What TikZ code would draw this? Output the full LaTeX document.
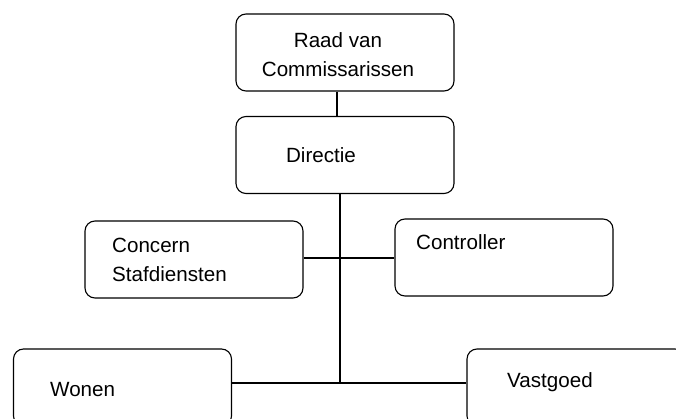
\documentclass[tikz,border=0pt]{standalone}
\usepackage{fontspec}
\setmainfont{Liberation Sans}
\usepackage{tikz}
\usetikzlibrary{positioning}
\tikzstyle{unit} = [draw=black, line width=1.1pt, rounded corners=10pt, fill=white,
        minimum width=218pt, minimum height=77pt, inner sep=0pt]
\tikzstyle{caption} = [font={\fontsize{20.6}{29}\selectfont}, inner sep=0pt, align=left]
\tikzstyle{wire} = [draw=black, line width=1.1pt]

\begin{document}
\begin{tikzpicture}[x=1pt, y=-1pt]
                \useasboundingbox (0,0) rectangle (676,419);
                \clip (0,0) rectangle (676,419);
                \draw
                    node [unit] (raad) at (345,52.5) {}
                    node [unit] (directie) at (345,155) {}
                    node [unit] (concern) at (194,259.5) {}
                    node [unit] (controller) at (504,257.5) {}
                    node [unit] (wonen) at (122.5,387.5) {}
                    node [unit] (vastgoed) at (576,387.5) {};
                \node [caption, align=center] (raad-t) at (338,55) {Raad van\\Commissarissen};
                \node [caption] (directie-t) at (321,155) {Directie};
                \node [caption, anchor=west] (concern-t) at (112,260) {Concern\\Stafdiensten};
                \node [caption, anchor=west] (controller-t) at (416,242) {Controller};
                \node [caption, anchor=west] (wonen-t) at (50,390) {Wonen};
                \node [caption, anchor=west] (vastgoed-t) at (507,382) {Vastgoed};
                \coordinate (hub) at (340,258);
                \coordinate (foot) at (340,383);
                \draw[wire] ([xshift=-8pt]raad.south) -- ([xshift=-8pt]directie.north);
                \draw[wire] (directie.south -| foot) -- (foot);
                \draw[wire] (concern.east |- hub) -- (controller.west |- hub);
                \draw[wire] (wonen.east |- foot) -- (vastgoed.west |- foot);
            \end{tikzpicture}
\end{document}
